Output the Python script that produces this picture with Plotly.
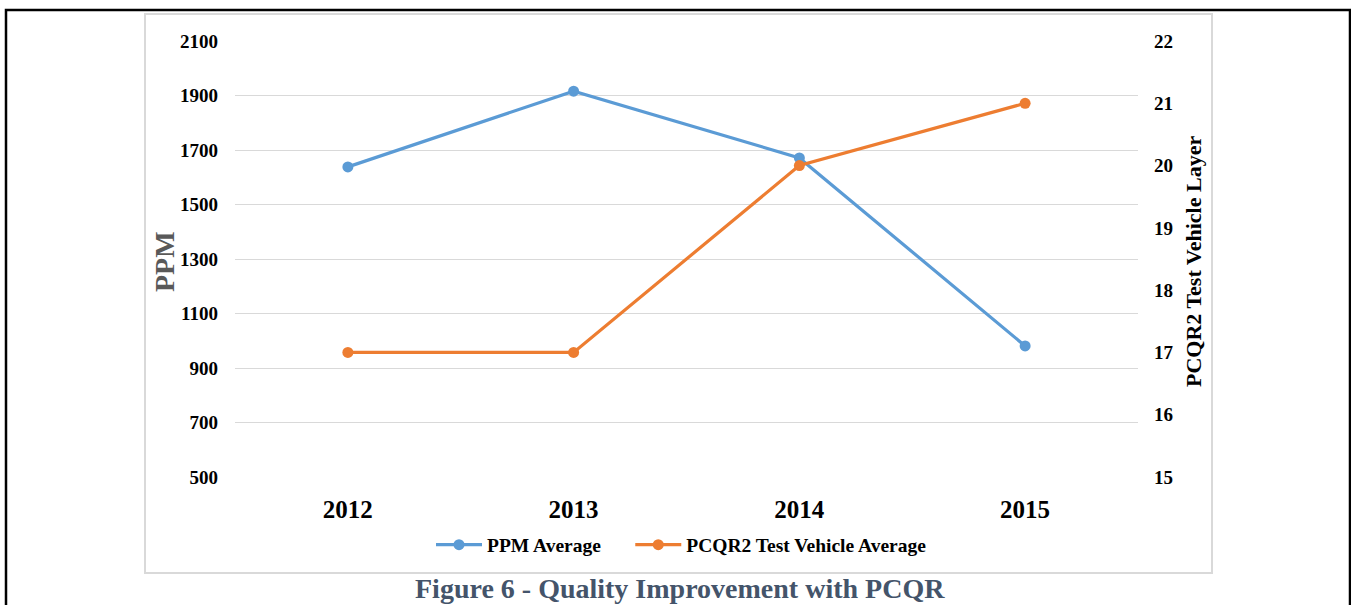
import plotly.graph_objects as go

years = ["2012", "2013", "2014", "2015"]
ppm_avg = [1638, 1916, 1671, 981]
pcqr_avg = [17, 17, 20, 21]
left_ticks = [500, 700, 900, 1100, 1300, 1500, 1700, 1900, 2100]
right_ticks = [15, 16, 17, 18, 19, 20, 21, 22]

W, H = 1351, 605
px = lambda x: x / W
py = lambda y: 1 - y / H

FONT = "Liberation Serif"
BLUE = "#5B9BD5"
ORANGE = "#ED7D31"
NB = "&nbsp;"

fig = go.Figure()
fig.add_trace(go.Scatter(x=years, y=ppm_avg, name="<b>PPM Average</b>" + NB * 5, mode="lines+markers",
                         line=dict(color=BLUE, width=3.2), marker=dict(size=11, color=BLUE)))
fig.add_trace(go.Scatter(x=years, y=pcqr_avg, name="<b>PCQR2 Test Vehicle Average</b>", mode="lines+markers",
                         line=dict(color=ORANGE, width=3.2), marker=dict(size=11, color=ORANGE), yaxis="y2"))

fig.update_layout(
    width=W, height=H, margin=dict(l=0, r=0, t=0, b=0, pad=0, autoexpand=False),
    paper_bgcolor="white", plot_bgcolor="white",
    font=dict(family=FONT, color="black"),
    xaxis=dict(domain=[px(235), px(1138)], type="category", range=[-0.5, 3.5], automargin=False,
               showgrid=False, zeroline=False, showline=False, ticks="",
               tickfont=dict(size=25, family=FONT, color="black", weight="bold"),
               ticklabelstandoff=15),
    yaxis=dict(domain=[py(477), py(41)], range=[500, 2100], tickvals=left_ticks, automargin=False,
               showgrid=True, gridcolor="#D9D9D9", gridwidth=1, zeroline=False, showline=False,
               tickfont=dict(size=19, family=FONT, color="black", weight="bold"),
               ticklabelstandoff=16),
    yaxis2=dict(overlaying="y", side="right", range=[15, 22], tickvals=right_ticks, automargin=False,
                showgrid=False, zeroline=False, showline=False,
                tickfont=dict(size=19, family=FONT, color="black", weight="bold"),
                ticklabelstandoff=15),
    legend=dict(orientation="h", x=px(431), xanchor="left", y=py(545), yanchor="middle",
                font=dict(size=19.5, family=FONT, color="black"), itemwidth=46,
                bgcolor="rgba(0,0,0,0)"),
    showlegend=True,
)

fig.add_annotation(text="<b>PPM</b>", x=px(164), y=py(262), xref="paper", yref="paper",
                   xanchor="center", yanchor="middle",
                   textangle=-90, showarrow=False, font=dict(size=28, family=FONT, color="#595959"))
fig.add_annotation(text="<b>PCQR2 Test Vehicle Layer</b>", x=px(1193), y=py(262), xref="paper", yref="paper",
                   xanchor="center", yanchor="middle",
                   textangle=-90, showarrow=False, font=dict(size=22, family=FONT, color="black"))
fig.add_annotation(text="<b>Figure 6 - Quality Improvement with PCQR</b>", x=px(680), y=py(588),
                   xref="paper", yref="paper", xanchor="center", yanchor="middle", showarrow=False,
                   font=dict(size=28, family=FONT, color="#44546A"))

# outer black frame and inner gray chart border
fig.add_shape(type="rect", xref="paper", yref="paper", x0=px(6), x1=px(1350), y0=py(640), y1=py(10),
              line=dict(color="black", width=2.5), fillcolor="rgba(0,0,0,0)", layer="below")
fig.add_shape(type="rect", xref="paper", yref="paper", x0=px(145), x1=px(1212), y0=py(573), y1=py(14),
              line=dict(color="#D9D9D9", width=2), fillcolor="rgba(0,0,0,0)", layer="below")

fig.write_html("out.html", config={"displayModeBar": False},
               post_script="document.body.style.margin='0';document.body.style.overflow='hidden';"
                           "document.documentElement.style.overflow='hidden';")
